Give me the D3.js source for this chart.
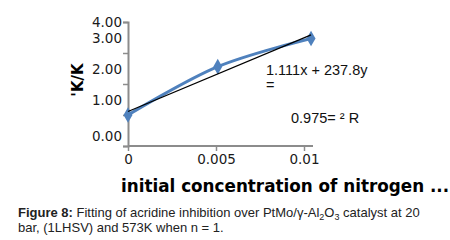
<!DOCTYPE html>
<html>
<head>
<meta charset="utf-8">
<script src="https://cdn.jsdelivr.net/npm/d3@7.9.0/dist/d3.min.js"></script>
<style>
  html, body { margin: 0; padding: 0; background: #fff; }
  svg { display: block; }
</style>
</head>
<body>
<svg id="chart" width="450" height="240"></svg>
<script>
// ---- data ----
const concentrations = [0, 0.0051, 0.0104];
const ratios = [1.0, 2.56, 3.47];
const yTicks = [0, 1, 2, 3, 4];
const xTicks = [0, 0.005, 0.01];
const xTickLabels = ['0', '0.005', '0.01'];
const trend = { slope: 237.8, intercept: 1.111 };

const svg = d3.select('#chart');

const x = d3.scaleLinear().domain([0, 0.01]).range([128, 304]);
const y = d3.scaleLinear().domain([0, 4]).range([146, 22]);

const axisColor = '#8c8c8c';

// y axis
const yAxis = svg.append('g')
  .attr('transform', 'translate(128,0)')
  .call(d3.axisLeft(y).tickValues(yTicks).tickSize(5).tickFormat(d3.format('.2f')));
yAxis.select('.domain').attr('stroke', axisColor).attr('stroke-width', 2);
yAxis.selectAll('.tick line').attr('stroke', axisColor).attr('stroke-width', 1.5);
// labels in the source sit a bit above their ticks
yAxis.selectAll('.tick text')
  .attr('x', -6)
  .attr('dy', d => d === 4 ? '0.32em' : d === 0 ? '-0.38em' : '-0.75em')
  .attr('fill', '#1a1a1a')
  .style('font-family', 'DejaVu Sans')
  .style('font-size', '13.5px');

// x axis
const xAxis = svg.append('g')
  .attr('transform', 'translate(0,146)')
  .call(d3.axisBottom(x).tickValues(xTicks).tickSize(5).tickSizeOuter(0)
    .tickFormat((d, i) => xTickLabels[i]));
xAxis.select('.domain').attr('stroke', axisColor).attr('stroke-width', 2)
  .attr('d', `M128,0H313`);
xAxis.selectAll('.tick line').attr('stroke', axisColor).attr('stroke-width', 1.5);
xAxis.selectAll('.tick text')
  .attr('y', 8)
  .attr('fill', '#1a1a1a')
  .style('font-family', 'DejaVu Sans')
  .style('font-size', '13.5px');

// data line (smoothed) + markers
const line = d3.line()
  .x((d, i) => x(concentrations[i]))
  .y(d => y(d))
  .curve(d3.curveCatmullRom.alpha(0.5));

svg.append('path')
  .datum(ratios)
  .attr('d', line)
  .attr('fill', 'none')
  .attr('stroke', '#4f81bd')
  .attr('stroke-width', 3);

svg.append('g').selectAll('path')
  .data(ratios)
  .join('path')
  .attr('transform', (d, i) => `translate(${x(concentrations[i])},${y(d)})`)
  .attr('d', d3.symbol(d3.symbolDiamond, 70))
  .attr('fill', '#4f81bd');

// linear trendline
const x0 = concentrations[0], x1 = concentrations[concentrations.length - 1];
svg.append('line')
  .attr('x1', x(x0)).attr('y1', y(trend.slope * x0 + trend.intercept))
  .attr('x2', x(x1)).attr('y2', y(trend.slope * x1 + trend.intercept))
  .attr('stroke', '#000')
  .attr('stroke-width', 1.2);

// equation labels
const eq = svg.append('g')
  .style('font-family', 'Liberation Sans, Arial, sans-serif')
  .style('font-size', '14.5px')
  .attr('fill', '#111');
eq.append('text').attr('x', 266).attr('y', 75).text('1.111x + 237.8y');
eq.append('text').attr('x', 266).attr('y', 90).text('=');
eq.append('text').attr('x', 291).attr('y', 123).text('0.975= ² R');

// axis titles
svg.append('text')
  .attr('transform', 'translate(83,80) rotate(-90)')
  .attr('text-anchor', 'middle')
  .style('font-family', 'DejaVu Sans')
  .style('font-weight', 'bold')
  .style('font-size', '15px')
  .text("'K/K");

svg.append('text')
  .attr('x', 121).attr('y', 192)
  .style('font-family', 'DejaVu Sans')
  .style('font-weight', 'bold')
  .style('font-size', '16.8px')
  .text('initial concentration of nitrogen ...');

// caption
const cap = svg.append('g')
  .style('font-family', 'Liberation Sans, Arial, sans-serif')
  .style('font-size', '13px')
  .attr('fill', '#222');
const l1 = cap.append('text').attr('x', 18).attr('y', 217);
l1.append('tspan').style('font-weight', 'bold').text('Figure 8:');
l1.append('tspan').text(' Fitting of acridine inhibition over PtMo/γ-Al');
l1.append('tspan').attr('dy', 3).style('font-size', '9px').text('2');
l1.append('tspan').attr('dy', -3).text('O');
l1.append('tspan').attr('dy', 3).style('font-size', '9px').text('3');
l1.append('tspan').attr('dy', -3).text(' catalyst at 20');
cap.append('text').attr('x', 18).attr('y', 232)
  .text('bar, (1LHSV) and 573K when n = 1.');
</script>
</body>
</html>
